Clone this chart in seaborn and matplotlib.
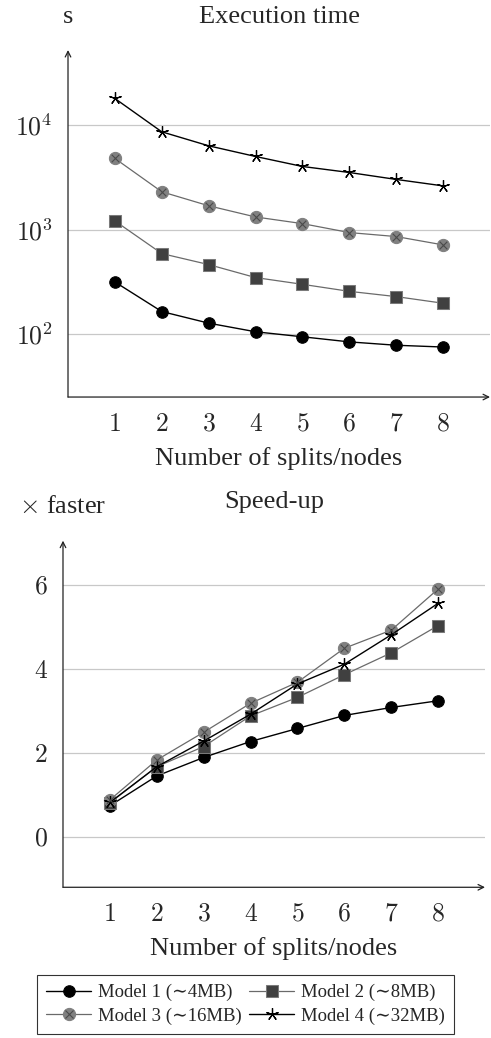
import math
import matplotlib
matplotlib.use("Agg")
import matplotlib.pyplot as plt
import seaborn as sns
from matplotlib.lines import Line2D
from matplotlib.legend_handler import HandlerTuple
from matplotlib.ticker import FixedLocator, FuncFormatter, LogLocator, NullFormatter

# valeurs
nodes = [1, 2, 3, 4, 5, 6, 7, 8]
time_m1 = [315, 164, 127, 105, 94, 84, 78, 75]
time_m2 = [1210, 589, 462, 347, 299, 256, 228, 197]
time_m3 = [4800, 2300, 1690, 1320, 1140, 936, 857, 713]
time_m4 = [18000, 8630, 6340, 5010, 4020, 3520, 3020, 2620]
speed_m1 = [0.75, 1.46, 1.90, 2.28, 2.59, 2.90, 3.09, 3.25]
speed_m2 = [0.82, 1.68, 2.16, 2.89, 3.33, 3.87, 4.39, 5.04]
speed_m3 = [0.89, 1.84, 2.50, 3.19, 3.69, 4.50, 4.93, 5.91]
speed_m4 = [0.83, 1.68, 2.29, 2.93, 3.65, 4.12, 4.82, 5.57]
model_labels = ["Model 1 (\u223c4MB)", "Model 2 (\u223c8MB)",
                "Model 3 (\u223c16MB)", "Model 4 (\u223c32MB)"]

sns.set_style("white")
plt.rcParams["font.family"] = ["Liberation Serif", "DejaVu Serif"]
plt.rcParams["mathtext.fontset"] = "cm"

STAR = (5, 2, 0)
styles = [
    dict(color="black", marker="o", markersize=8.3, markerfacecolor="black",
         markeredgecolor="black", linewidth=1.0),
    dict(color="#6a6a6a", marker="s", markersize=8.3, markerfacecolor="#404040",
         markeredgecolor="#7a7a7a", linewidth=0.9),
    dict(color="#6a6a6a", marker="o", markersize=8.8, markerfacecolor="#808080",
         markeredgecolor="#808080", linewidth=0.9),
    dict(color="black", marker=STAR, markersize=9, markerfacecolor="black",
         markeredgecolor="black", markeredgewidth=0.9, linewidth=1.0),
]
cross = dict(marker="x", s=30, color="#4a4a4a", linewidth=0.8, zorder=5)


def decorate(ax):
    for side in ["top", "right", "left", "bottom"]:
        ax.spines[side].set_visible(False)
    ax.annotate("", xy=(1.0, 0), xytext=(0, 0), xycoords="axes fraction",
                arrowprops=dict(arrowstyle="->,head_length=0.4,head_width=0.2",
                                color="#222222", lw=0.9, shrinkA=0, shrinkB=0))
    ax.annotate("", xy=(0, 1.0), xytext=(0, 0), xycoords="axes fraction",
                arrowprops=dict(arrowstyle="->,head_length=0.4,head_width=0.2",
                                color="#222222", lw=0.9, shrinkA=0, shrinkB=0))
    ax.set_xlim(0, 9)
    ax.xaxis.set_major_locator(FixedLocator(nodes))
    ax.xaxis.set_major_formatter(FuncFormatter(lambda v, p: r"$%d$" % v))
    ax.tick_params(axis="x", direction="inout", length=6, width=0.6,
                   color="#cccccc", labelsize=18.5, pad=9)
    ax.tick_params(axis="y", which="both", direction="inout", width=0.6,
                   color="#bbbbbb", labelsize=18.5, pad=8)
    ax.yaxis.grid(True, which="major", color="#c8c8c8", linewidth=0.9)
    ax.xaxis.grid(False)
    ax.set_xlabel("Number of splits/nodes", fontsize=19, labelpad=8)
    ax.set_ylabel("")


fig = plt.figure(figsize=(4.91, 10.38), dpi=100)
ax1 = fig.add_axes([0.1385, 0.6175, 0.8595, 0.3343])
ax2 = fig.add_axes([0.1283, 0.1452, 0.8595, 0.3339])

# temps d'execution
handles = []
for vals, st, lab in zip([time_m1, time_m2, time_m3, time_m4], styles, model_labels):
    sns.lineplot(x=nodes, y=vals, ax=ax1, label=lab, **st)
    handles.append(ax1.get_lines()[-1])
sns.scatterplot(x=nodes, y=time_m3, ax=ax1, **cross)
ax1.set_yscale("log")
ax1.set_ylim(24.9, 52400)
ax1.yaxis.set_major_locator(FixedLocator([100, 1000, 10000]))
ax1.yaxis.set_major_formatter(FuncFormatter(lambda v, p: r"$10^{%d}$" % round(math.log10(v))))
ax1.yaxis.set_minor_locator(LogLocator(base=10, subs=range(2, 10)))
ax1.yaxis.set_minor_formatter(NullFormatter())
ax1.tick_params(axis="y", which="major", length=6)
ax1.tick_params(axis="y", which="minor", length=5)
decorate(ax1)
ax1.get_legend().remove()
ax1.text(0.0, 1.078, "s", transform=ax1.transAxes, ha="center", va="baseline",
         fontsize=19)
ax1.text(0.5, 1.078, "Execution time", transform=ax1.transAxes, ha="center",
         va="baseline", fontsize=19)

# acceleration
for vals, st in zip([speed_m1, speed_m2, speed_m3, speed_m4], styles):
    sns.lineplot(x=nodes, y=vals, ax=ax2, **st)
sns.scatterplot(x=nodes, y=speed_m3, ax=ax2, **cross)
ax2.set_ylim(-1.19, 7.06)
ax2.yaxis.set_major_locator(FixedLocator([0, 2, 4, 6]))
ax2.yaxis.set_major_formatter(FuncFormatter(lambda v, p: r"$%d$" % v))
ax2.tick_params(axis="y", which="major", length=6)
decorate(ax2)
ax2.text(0.0, 1.081, r"$\times$ faster", transform=ax2.transAxes, ha="center",
         va="baseline", fontsize=19)
ax2.text(0.5, 1.094, "Speed-up", transform=ax2.transAxes, ha="center",
         va="baseline", fontsize=19)

x_handle = Line2D([], [], linestyle="none", marker="x", markersize=5.5,
                  color="#4a4a4a", markeredgewidth=0.8)
m3_handle = (handles[2], x_handle)
# ordre ligne par ligne : 1 2 / 3 4
leg_handles = [handles[0], m3_handle, handles[1], handles[3]]
leg_labels = [model_labels[0], model_labels[2], model_labels[1], model_labels[3]]
leg = fig.legend(leg_handles, leg_labels, ncol=2, loc="center",
                 bbox_to_anchor=(0.5, 0.0325), fontsize=13.5,
                 handler_map={tuple: HandlerTuple(ndivide=1)},
                 handlelength=2.4, handletextpad=0.35, columnspacing=0.4,
                 labelspacing=0.32, borderpad=0.5, fancybox=False,
                 frameon=True, edgecolor="black")
leg.get_frame().set_linewidth(0.8)

fig.savefig("out.png", dpi=100)
